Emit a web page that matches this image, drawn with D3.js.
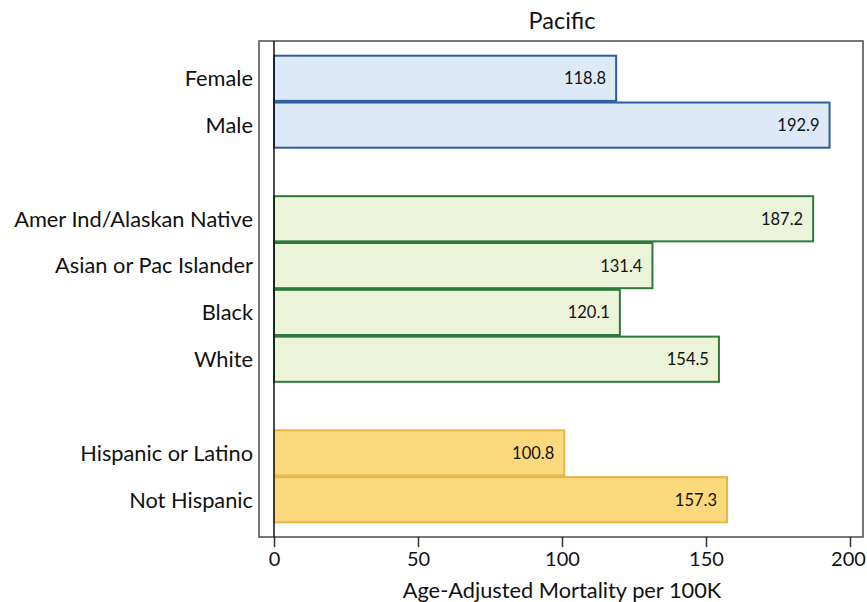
<!DOCTYPE html>
<html>
<head>
<meta charset="utf-8">
<script src="https://cdn.jsdelivr.net/npm/d3@7"></script>
<style>
  html, body { margin: 0; padding: 0; background: #fff; }
  text { font-family: Lato, "Open Sans", sans-serif; }
</style>
</head>
<body>
<svg id="chart" width="867" height="602"></svg>
<script>
// Age-adjusted mortality per 100K, Pacific division
const categories = ["Female", "Male", "Amer Ind/Alaskan Native", "Asian or Pac Islander", "Black", "White", "Hispanic or Latino", "Not Hispanic"];
const groups = ["sex", "sex", "race", "race", "race", "race", "ethnicity", "ethnicity"];
const values = [118.8, 192.9, 187.2, 131.4, 120.1, 154.5, 100.8, 157.3];
const xTicks = [0, 50, 100, 150, 200];
// row order including blank rows between groups
const rowOrder = ["Female", "Male", "_gap1", "Amer Ind/Alaskan Native", "Asian or Pac Islander", "Black", "White", "_gap2", "Hispanic or Latino", "Not Hispanic"];

const palette = {
  sex: { fill: "#dde9f6", stroke: "#2c5d9d" },
  race: { fill: "#ebf3d8", stroke: "#2f7a3b" },
  ethnicity: { fill: "#fbd97c", stroke: "#eab543" }
};

const svg = d3.select("#chart");
const frame = { left: 259, right: 863, top: 41, bottom: 537 };

const x = d3.scaleLinear().domain([0, 200]).range([274, 850]);
const y = d3.scaleBand().domain(rowOrder).range([55.7, 522.3]).paddingInner(0.035).paddingOuter(0);

// Title
svg.append("text")
  .attr("x", 562).attr("y", 29)
  .attr("text-anchor", "middle")
  .attr("font-size", 23.5)
  .attr("fill", "#111")
  .text("Pacific");

// Plot frame
svg.append("rect")
  .attr("x", frame.left).attr("y", frame.top)
  .attr("width", frame.right - frame.left)
  .attr("height", frame.bottom - frame.top)
  .attr("fill", "none")
  .attr("stroke", "#555")
  .attr("stroke-width", 1.6);

const data = categories.map((c, i) => ({ cat: c, group: groups[i], value: values[i] }));

// Bars
svg.append("g").selectAll("rect")
  .data(data)
  .join("rect")
  .attr("x", x(0))
  .attr("y", d => y(d.cat))
  .attr("width", d => x(d.value) - x(0))
  .attr("height", y.bandwidth())
  .attr("fill", d => palette[d.group].fill)
  .attr("stroke", d => palette[d.group].stroke)
  .attr("stroke-width", 2);

// Value labels inside bar ends
svg.append("g").selectAll("text")
  .data(data)
  .join("text")
  .attr("x", d => x(d.value) - 10)
  .attr("y", d => y(d.cat) + y.bandwidth() / 2)
  .attr("dy", "0.36em")
  .attr("text-anchor", "end")
  .attr("font-size", 16.5)
  .attr("fill", "#111")
  .text(d => d.value.toFixed(1));

// Zero reference line
svg.append("line")
  .attr("x1", x(0)).attr("x2", x(0))
  .attr("y1", frame.top).attr("y2", frame.bottom)
  .attr("stroke", "#111")
  .attr("stroke-width", 1.5);

// Category labels
svg.append("g").selectAll("text")
  .data(data)
  .join("text")
  .attr("x", 253)
  .attr("y", d => y(d.cat) + y.bandwidth() / 2)
  .attr("dy", "0.36em")
  .attr("text-anchor", "end")
  .attr("font-size", 21.8)
  .attr("fill", "#111")
  .text(d => d.cat);

// X axis
const xAxis = svg.append("g")
  .attr("transform", `translate(0,${frame.bottom})`)
  .call(d3.axisBottom(x).tickValues(xTicks).tickSize(10).tickSizeOuter(0).tickPadding(5));
xAxis.select(".domain").remove();
xAxis.selectAll(".tick line").attr("stroke", "#333").attr("stroke-width", 1.5);
xAxis.selectAll(".tick text")
  .attr("font-family", "Lato, 'Open Sans', sans-serif")
  .attr("font-size", 20)
  .attr("fill", "#111");
// keep the rightmost tick label inside the canvas
xAxis.selectAll(".tick text").filter(d => d === 200).attr("dx", -2);

svg.append("text")
  .attr("x", 562).attr("y", 598)
  .attr("text-anchor", "middle")
  .attr("font-size", 21.8)
  .attr("fill", "#111")
  .text("Age-Adjusted Mortality per 100K");
</script>
</body>
</html>
